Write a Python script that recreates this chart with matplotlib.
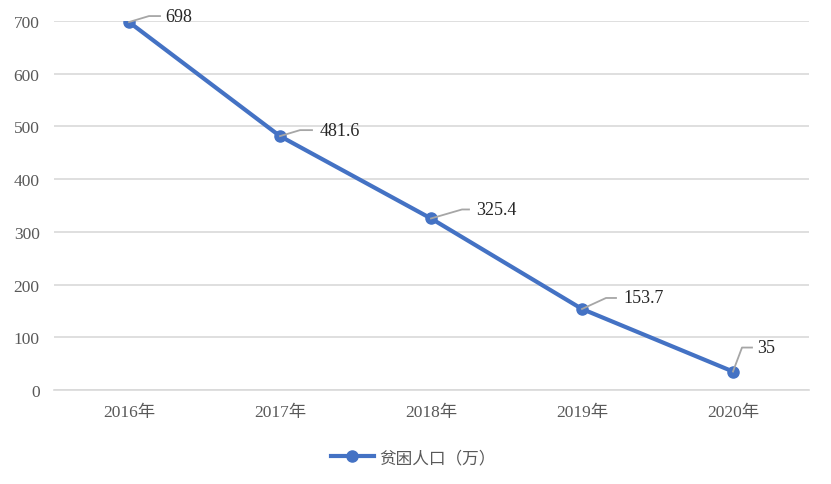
import matplotlib
matplotlib.use('Agg')
import matplotlib.pyplot as plt
from matplotlib.lines import Line2D
from matplotlib.transforms import IdentityTransform

plt.rcParams['font.family'] = ['Liberation Serif', 'Noto Sans CJK SC', 'DejaVu Sans']

years = ['2016年', '2017年', '2018年', '2019年', '2020年']
poverty = [698, 481.6, 325.4, 153.7, 35]
labels = ['698', '481.6', '325.4', '153.7', '35']
series_name = '贫困人口（万）'

# leader line offsets in pixels: (bend dx, bend dy, end dx), text dx
leaders = [(20, 6, 31, 36), (20, 6, 32, 40), (31, 9, 38, 45), (24, 11, 34, 41), (9, 24, 19, 24)]

blue = '#4472C4'
fig = plt.figure(figsize=(8.31, 4.85), dpi=100)
ax = fig.add_axes([53.5 / 831, 94 / 485, 755 / 831, 369 / 485])

x = range(len(years))
ax.plot(x, poverty, color=blue, lw=3, marker='o', ms=8, zorder=3,
        solid_capstyle='round')
ax.set_xlim(-0.5, len(years) - 0.5)
ax.set_ylim(0, 700)
ax.set_yticks(range(0, 701, 100))
ax.set_xticks(list(x))
ax.set_xticklabels(years)
ax.grid(axis='y', color='#d9d9d9', lw=1.2)
ax.set_axisbelow(True)
for s in ['top', 'right', 'left']:
    ax.spines[s].set_visible(False)
ax.spines['bottom'].set_color('#d9d9d9')
ax.spines['bottom'].set_linewidth(1.2)
ax.tick_params(length=0, labelsize=12.5, colors='#595959', pad=10)
ax.tick_params(axis='y', pad=10)

fig.canvas.draw()
for i, (v, lab, (bx, by, ex, tx)) in enumerate(zip(poverty, labels, leaders)):
    px, py = ax.transData.transform((i, v))
    fig.add_artist(Line2D([px, px + bx, px + ex], [py, py + by, py + by],
                          transform=IdentityTransform(), color='#a6a6a6', lw=1.3, zorder=2))
    fig.text((px + tx) / 831, (py + by) / 485, lab, fontsize=13, color='#262626',
             va='center', ha='left')

handle = Line2D([], [], color=blue, lw=3, marker='o', ms=8)
fig.legend([handle], [series_name], loc='center', bbox_to_anchor=(0.497, 26 / 485),
           frameon=False, fontsize=12, labelcolor='#595959', handlelength=2.6,
           handletextpad=0.3)

fig.savefig('out.png', dpi=100)
